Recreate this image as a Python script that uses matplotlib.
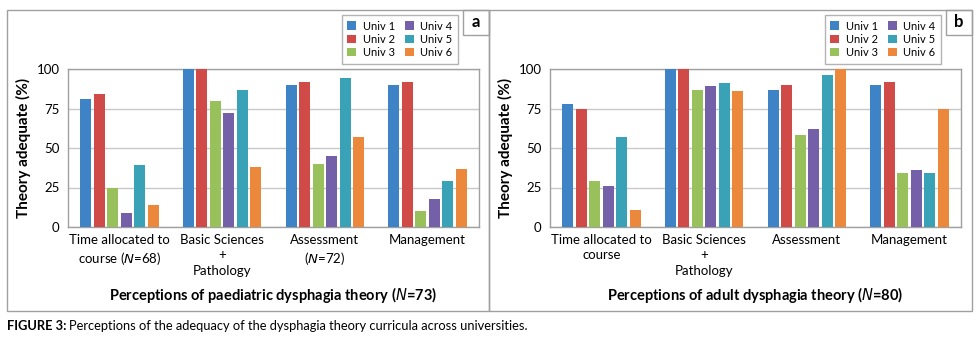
import matplotlib
matplotlib.use("Agg")
import matplotlib.pyplot as plt
from matplotlib.patches import Rectangle
import numpy as np

plt.rcParams['font.family'] = ['Lato', 'DejaVu Sans']
plt.rcParams['mathtext.fontset'] = 'dejavusans'

univs = ["Univ 1", "Univ 2", "Univ 3", "Univ 4", "Univ 5", "Univ 6"]
colors = ["#3D83C5", "#D04A47", "#98C05B", "#7360A8", "#3AA2B6", "#EC883B"]

cats_paed = ["Time allocated to\ncourse ($\\it{N}$=68)", "Basic Sciences\n+\nPathology",
             "Assessment\n($\\it{N}$=72)", "Management"]
cats_adult = ["Time allocated to\ncourse", "Basic Sciences\n+\nPathology",
              "Assessment", "Management"]

# rows = univ, cols = category
paed = [
    [81, 100, 90, 90],
    [84, 100, 92, 92],
    [25, 80, 40, 10],
    [9, 72, 45, 18],
    [39, 87, 94, 29],
    [14, 38, 57, 37],
]
adult = [
    [78, 100, 87, 90],
    [75, 100, 90, 92],
    [29, 87, 58, 34],
    [26, 89, 62, 36],
    [57, 91, 96, 34],
    [11, 86, 100, 75],
]

W, H = 980, 340
fig = plt.figure(figsize=(W / 100, H / 100), dpi=100)


def fx(x):
    return x / W


def fy(y):
    return 1 - y / H


def panel(x0, x1, ax_left, data, cats, xlabel, tag):
    # outer frame
    fig.patches.append(Rectangle((fx(x0), fy(311)), fx(x1 - x0), (311 - 10) / H,
                                 transform=fig.transFigure, fill=False,
                                 edgecolor="#a0a0a0", lw=1.0))
    # tag box
    fig.patches.append(Rectangle((fx(x1 - 26), fy(35)), fx(26), 25 / H,
                                 transform=fig.transFigure, fill=False,
                                 edgecolor="#a0a0a0", lw=1.0))
    fig.text(fx(x1 - 13), fy(22), tag, ha="center", va="center",
             fontsize=12, fontweight="bold")

    ax = fig.add_axes([fx(ax_left), fy(227), fx(411), (227 - 69) / H])
    x = np.arange(len(cats))
    pitch = 0.131
    width = 0.107
    for i, (u, c) in enumerate(zip(univs, colors)):
        ax.bar(x + (i - 2.5) * pitch, data[i], width, color=c, label=u, zorder=3)
    ax.set_xlim(-0.5, len(cats) - 0.5)
    ax.set_ylim(0, 100)
    ax.set_yticks([0, 25, 50, 75, 100])
    ax.yaxis.grid(True, color="#c8c8c8", lw=1.0, zorder=0)
    ax.set_xticks(x)
    ax.set_xticklabels(cats, fontsize=9.5, linespacing=1.35)
    ax.tick_params(axis="both", length=0, labelsize=9.5, pad=6)
    ax.tick_params(axis="x", pad=5)
    for s in ax.spines.values():
        s.set_color("#a0a0a0")
        s.set_linewidth(1.0)
    ax.set_ylabel("Theory adequate (%)", fontsize=11, fontweight="bold", labelpad=4)
    ax.set_xlabel(xlabel, fontsize=10.5, fontweight="bold", labelpad=6)
    leg = ax.legend(loc="upper right", bbox_to_anchor=(fx(x1 - 31), fy(15)),
                    bbox_transform=fig.transFigure,
                    ncol=2, fontsize=8, frameon=True, fancybox=False,
                    edgecolor="#a0a0a0", handlelength=0.8, handleheight=0.8,
                    handletextpad=0.6, columnspacing=0.9, labelspacing=0.2,
                    borderpad=0.5, borderaxespad=0)
    leg.get_frame().set_linewidth(1.0)
    return ax


panel(7, 489, 68, paed, cats_paed,
      "Perceptions of paediatric dysphagia theory ($\\it{N}$=73)", "a")
panel(489, 972, 550, adult, cats_adult,
      "Perceptions of adult dysphagia theory ($\\it{N}$=80)", "b")

t1 = fig.text(fx(7), fy(326), "FIGURE 3:", fontsize=9.3, fontweight="bold",
              va="center", ha="left")
fig.canvas.draw()
bb = t1.get_window_extent()
fig.text(bb.x1 / W + 0.003, fy(326),
         "Perceptions of the adequacy of the dysphagia theory curricula across universities.",
         fontsize=9.3, va="center", ha="left")

fig.savefig("out.png", dpi=100)
